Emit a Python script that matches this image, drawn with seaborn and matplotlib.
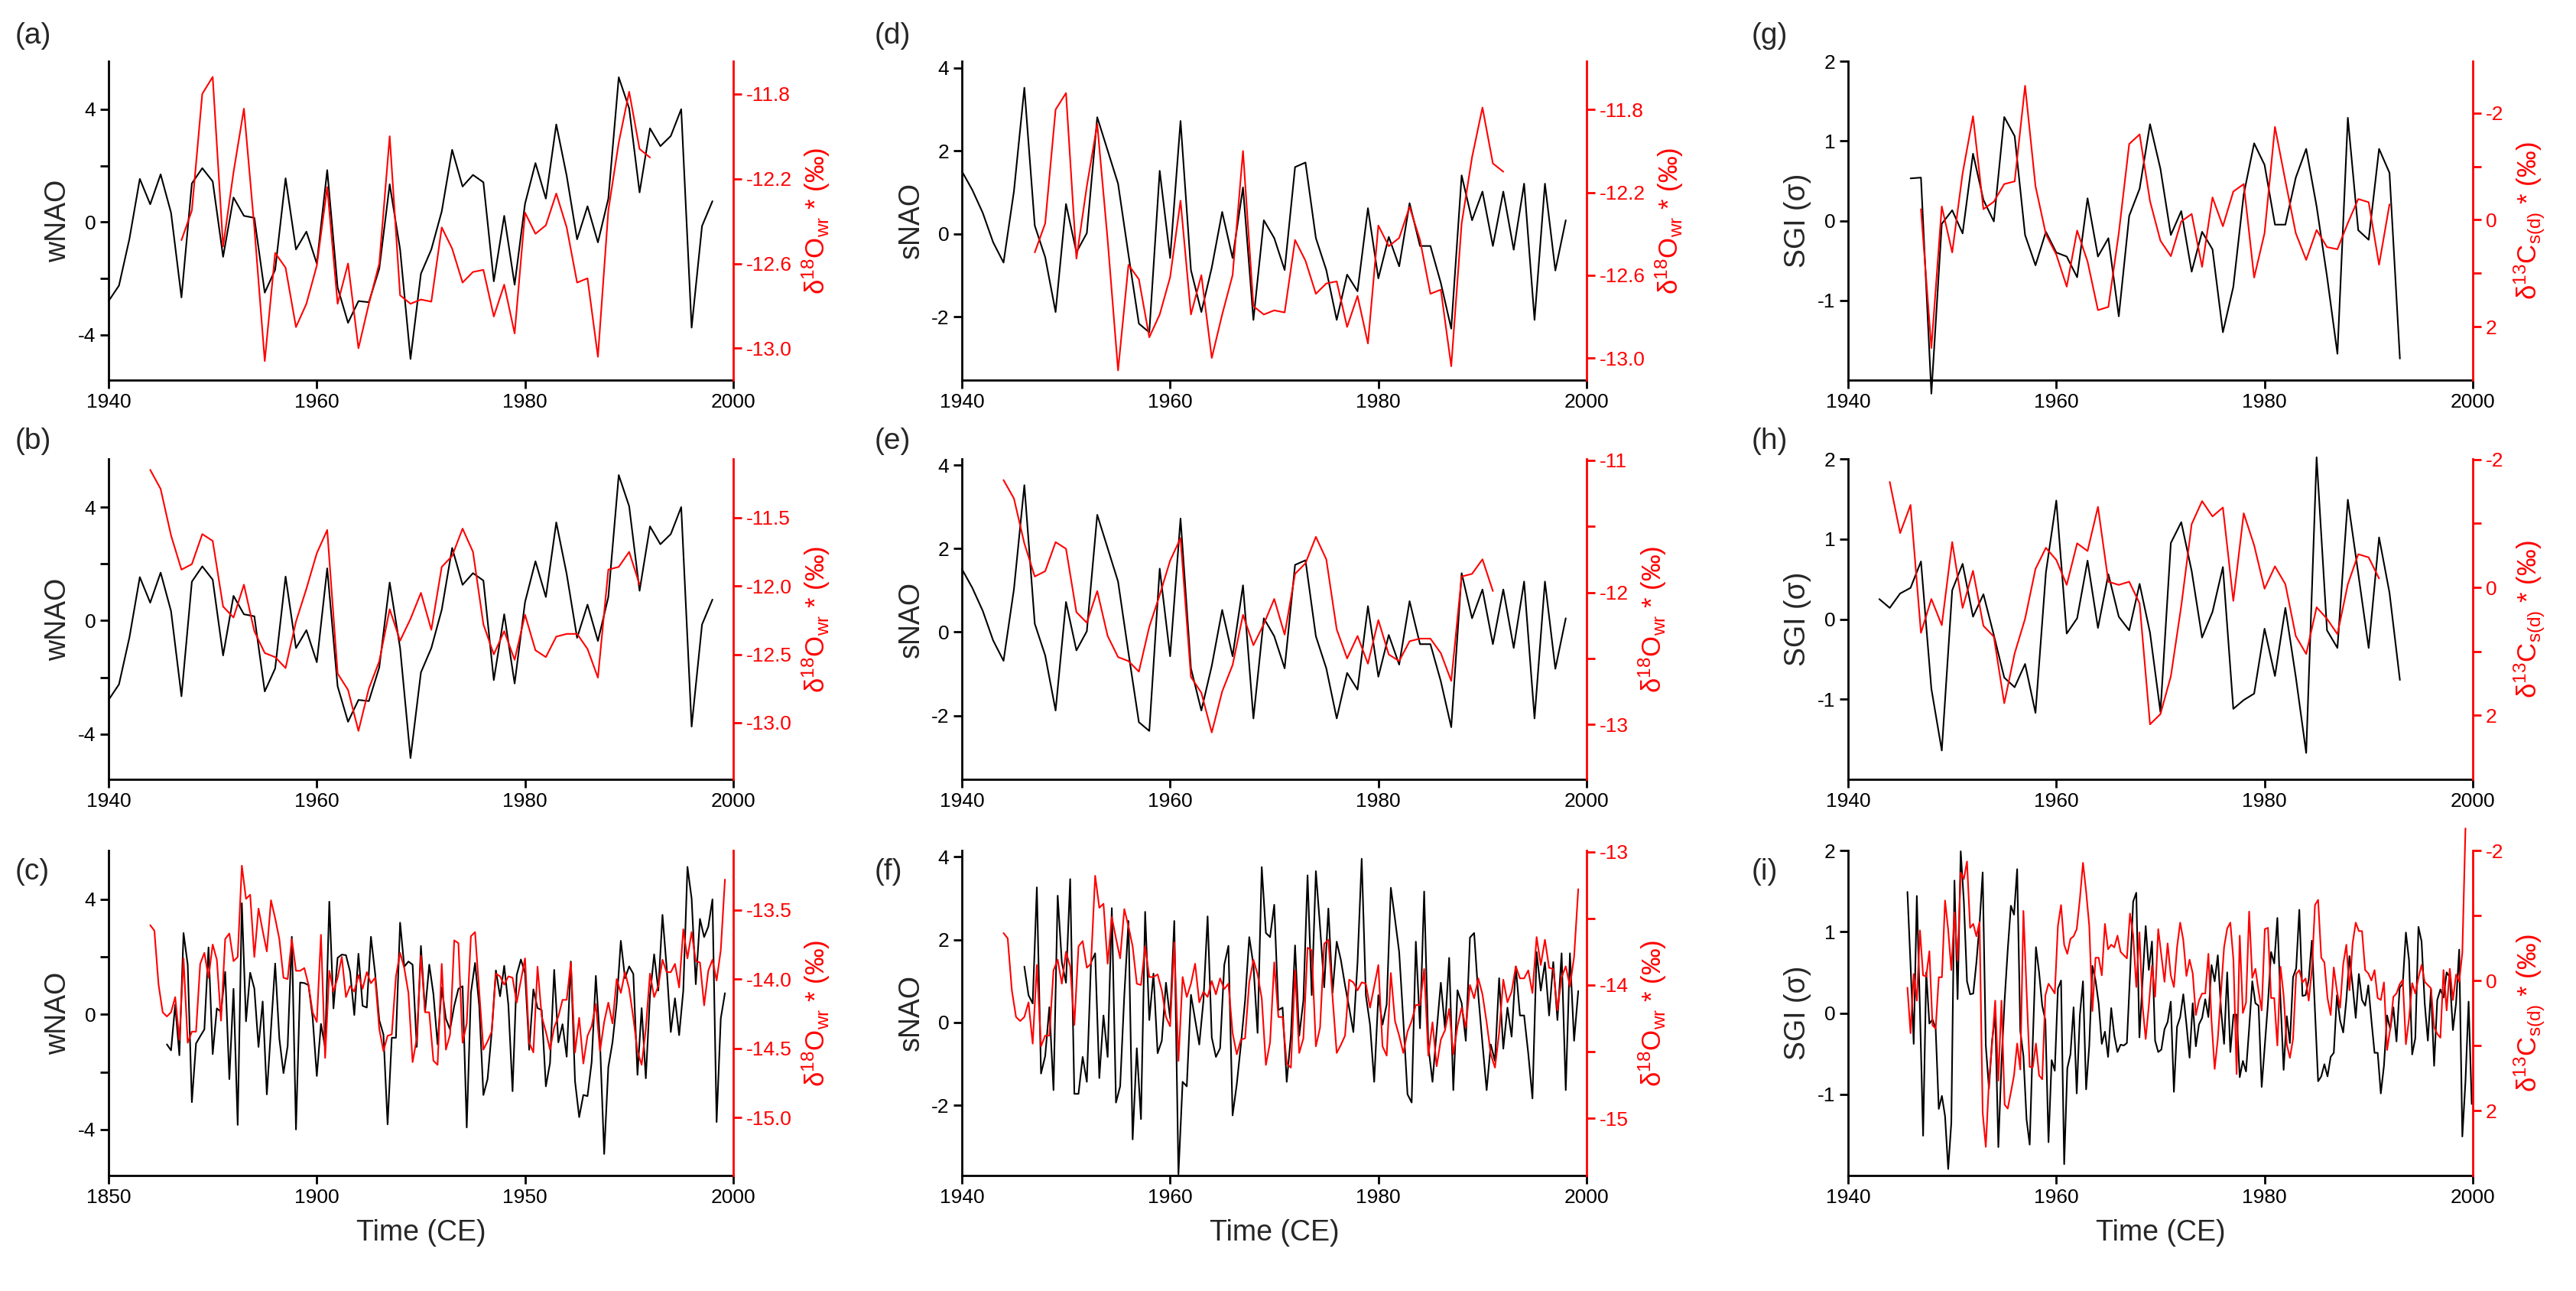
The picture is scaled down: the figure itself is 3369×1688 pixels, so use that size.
import numpy as np
import matplotlib
matplotlib.use("Agg")
import matplotlib.pyplot as plt
import seaborn as sns

# ---------------- data ----------------
# winter NAO, 1940-1998 (panels a, b and tail of c)
wnao = [-2.80, -2.25, -0.60, 1.53, 0.63, 1.69, 0.33, -2.67, 1.37, 1.91,
        1.44, -1.23, 0.87, 0.22, 0.15, -2.50, -1.69, 1.55, -0.97, -0.34,
        -1.47, 1.84, -2.32, -3.57, -2.80, -2.84, -1.65, 1.34, -0.97, -4.85,
        -1.83, -0.97, 0.38, 2.56, 1.26, 1.67, 1.41, -2.10, 0.22, -2.22,
        0.65, 2.09, 0.83, 3.46, 1.64, -0.61, 0.56, -0.72, 0.83, 5.13,
        4.03, 1.05, 3.32, 2.69, 3.05, 4.00, -3.74, -0.14, 0.74]
# winter NAO, 1864-1939 (panel c)
wnao_early = [-1.04, -1.25, 0.34, -1.42, 2.83, 1.73, -3.05, -1.01, -0.76, -0.52,
              2.33, -1.38, 0.21, 0.09, 1.48, -2.25, 0.89, -3.84, 3.87, -0.24,
              1.45, 0.90, -1.13, 0.45, -2.78, -0.52, 1.77, -0.83, -2.04, -1.10,
              2.70, -4.00, 1.11, 1.09, 1.02, -0.11, -2.14, -0.33, -1.15, 3.92,
              0.21, 1.97, 2.08, 2.06, 1.48, -0.02, 2.11, 0.30, 0.24, 2.70,
              1.43, -0.20, -0.70, -3.82, -0.81, -0.81, 3.19, 1.66, 1.84, 1.73,
              -1.13, 2.38, 0.10, 1.73, 0.71, -1.04, 0.93, -0.15, -0.52, 0.30,
              0.89, 0.98, -3.93, 0.75, 1.79, 0.30]
# summer NAO, 1940-1998 (panels d, e)
snao = [1.51, 1.06, 0.51, -0.20, -0.69, 1.03, 3.52, 0.20, -0.56, -1.88,
        0.72, -0.44, 0.02, 2.81, 2.01, 1.21, -0.50, -2.16, -2.37, 1.52,
        -0.58, 2.72, -0.87, -1.88, -0.81, 0.53, -0.58, 1.12, -2.07, 0.33,
        -0.10, -0.87, 1.61, 1.72, -0.10, -0.87, -2.07, -0.98, -1.38, 0.62,
        -1.07, -0.07, -0.78, 0.74, -0.29, -0.29, -1.18, -2.28, 1.41, 0.33,
        1.02, -0.29, 1.02, -0.38, 1.21, -2.07, 1.21, -0.88, 0.33]
# summer NAO long record, 1865-1998 (panel f)
snao_long = [1.35, 0.66, 0.46, 3.26, -1.23, -0.81, 0.37, -1.63, 3.06, 1.45,
             0.96, 3.46, -1.72, -1.72, -0.83, -1.43, 1.45, 1.67, -1.34, 0.17,
             -0.83, 2.76, -1.93, -1.54, 0.66, 2.45, -2.82, -0.62, -2.33, 2.67,
             0.06, 1.18, -0.74, -0.44, 0.96, 0.10, 2.45, -3.66, -1.43, -1.54,
             0.67, 0.07, -0.53, 0.53, 2.56, -0.36, -0.83, -0.62, 1.39, 1.85,
             -2.24, -1.49, -0.53, 0.53, 2.06, 1.39, -0.25, 3.75, 2.16, 2.06,
             2.84, 0.30, 0.36, -1.43, -0.32, 1.86, -0.32, 0.53, 3.55, 0.66,
             3.65, 2.31, 0.85, 2.75, 0.72, 1.95, 1.51, 0.90, 0.35, -0.23,
             1.45, 3.95, 0.66, -0.05, -1.43, 0.66, -0.05, 0.44, 3.25, 2.49,
             1.70, 0.04, -1.73, -1.93, 1.95, -0.14, 3.16, -0.57, -1.43, -0.20,
             0.96, -0.14, 1.56, -1.63, 0.78, 0.47, -0.44, 2.05, 2.16, 0.66,
             -0.51, -1.63, -0.53, -0.93, 1.07, -0.63, 0.36, -0.34, 1.35, 0.17,
             0.17, -0.75, -1.83, 1.70, 0.77, 1.45, 0.17, 1.46, 0.06, 1.67,
             -1.63, 1.67, -0.44, 0.76]
# d18O_wr annual, 1947-1992 (panels a, d)
d18o_annual = [-12.49, -12.35, -11.80, -11.72, -12.52, -12.17, -11.87, -12.43, -13.06, -12.55,
               -12.62, -12.90, -12.79, -12.61, -12.24, -12.79, -12.60, -13.00, -12.79, -12.60,
               -12.00, -12.75, -12.79, -12.77, -12.78, -12.43, -12.53, -12.69, -12.64, -12.63,
               -12.85, -12.70, -12.93, -12.36, -12.46, -12.42, -12.27, -12.43, -12.69, -12.67,
               -13.04, -12.35, -12.03, -11.79, -12.06, -12.10]
# d18O_wr smoothed, 1944-1991 (panels b, e)
d18o_smooth = [-11.15, -11.29, -11.63, -11.88, -11.84, -11.62, -11.67, -12.15, -12.23, -11.99,
               -12.33, -12.49, -12.52, -12.60, -12.26, -12.02, -11.76, -11.59, -12.64, -12.76,
               -13.06, -12.75, -12.55, -12.17, -12.40, -12.24, -12.05, -12.32, -11.86, -11.78,
               -11.58, -11.75, -12.28, -12.50, -12.33, -12.54, -12.21, -12.47, -12.52, -12.37,
               -12.35, -12.35, -12.46, -12.67, -11.88, -11.86, -11.75, -11.99]
# d18O_wr long record, 1860-1998 (panels c, f)
d18o_long = [-13.61, -13.65, -14.04, -14.24, -14.27, -14.24, -14.13, -14.44, -13.85, -14.46,
             -14.38, -14.38, -13.89, -13.81, -13.99, -13.75, -13.86, -14.30, -13.71, -13.67,
             -13.87, -13.84, -13.18, -13.42, -13.39, -13.84, -13.49, -13.65, -13.80, -13.43,
             -13.56, -13.71, -13.99, -14.00, -13.71, -13.94, -13.94, -13.92, -14.04, -14.24,
             -14.31, -13.68, -14.57, -13.94, -14.09, -13.99, -13.84, -14.13, -14.05, -14.09,
             -13.97, -14.07, -13.95, -14.03, -13.99, -14.36, -14.52, -14.41, -14.40, -13.98,
             -13.81, -13.92, -14.10, -14.60, -14.43, -13.83, -14.24, -14.24, -14.59, -14.62,
             -13.89, -14.51, -14.40, -13.72, -13.74, -14.46, -14.32, -13.69, -13.66, -14.09,
             -14.51, -14.45, -14.38, -13.96, -13.98, -14.04, -13.98, -13.99, -14.17, -14.01,
             -13.85, -14.46, -14.53, -13.91, -14.27, -14.38, -14.51, -14.35, -14.27, -14.15,
             -14.15, -13.88, -14.53, -14.28, -14.61, -14.41, -14.34, -14.18, -14.52, -14.31,
             -14.17, -14.32, -14.00, -14.10, -13.95, -14.07, -14.28, -14.52, -14.62, -14.36,
             -13.96, -14.13, -14.05, -13.86, -13.95, -13.95, -13.89, -14.06, -13.64, -13.85,
             -13.66, -13.87, -13.88, -14.19, -13.94, -13.86, -14.01, -13.79, -13.28]
# SGI, 1946-1993 (panel g)
sgi_g = [0.53, 0.54, -2.17, -0.04, 0.13, -0.16, 0.84, 0.26, -0.01, 1.30,
         1.06, -0.18, -0.56, -0.14, -0.40, -0.45, -0.71, 0.28, -0.45, -0.22,
         -1.20, 0.06, 0.40, 1.21, 0.65, -0.18, 0.12, -0.64, -0.14, -0.36,
         -1.40, -0.83, 0.33, 0.97, 0.70, -0.05, -0.05, 0.54, 0.90, 0.18,
         -0.70, -1.67, 1.29, -0.12, -0.24, 0.90, 0.60, -1.73]
# d13C_s(d), 1947-1992 (panel g)
d13c_g = [-0.20, 2.40, -0.25, 0.61, -0.87, -1.94, -0.20, -0.34, -0.67, -0.72,
          -2.51, -0.63, 0.27, 0.65, 1.25, 0.20, 0.78, 1.69, 1.63, 0.25,
          -1.42, -1.60, -0.35, 0.39, 0.68, 0.03, -0.11, 0.88, -0.42, 0.12,
          -0.53, -0.67, 1.08, 0.25, -1.74, -0.73, 0.25, 0.75, 0.19, 0.51,
          0.55, 0.06, -0.39, -0.33, 0.84, -0.29]
# SGI, 1943-1993 (panel h)
sgi_h = [0.25, 0.14, 0.32, 0.39, 0.72, -0.87, -1.64, 0.36, 0.69, 0.03,
         0.31, -0.20, -0.73, -0.85, -0.56, -1.17, 0.58, 1.48, -0.18, 0.01,
         0.73, -0.11, 0.56, 0.03, -0.14, 0.44, -0.17, -1.16, 0.95, 1.21,
         0.60, -0.23, 0.09, 0.65, -1.12, -1.01, -0.93, -0.12, -0.71, 0.14,
         -0.72, -1.67, 2.02, -0.14, -0.36, 1.49, 0.57, -0.36, 1.02, 0.33,
         -0.76]
# d13C_s(d), 1944-1991 (panel h)
d13c_h = [-1.65, -0.85, -1.29, 0.71, 0.18, 0.59, -0.71, 0.32, -0.26, 0.60,
          0.77, 1.81, 1.03, 0.49, -0.29, -0.62, -0.43, -0.04, -0.69, -0.57,
          -1.26, -0.09, -0.04, -0.09, 0.25, 2.14, 1.98, 1.39, 0.29, -0.99,
          -1.35, -1.11, -1.25, 0.21, -1.16, -0.66, 0.02, -0.33, -0.05, 0.76,
          1.04, 0.31, 0.49, 0.73, -0.05, -0.52, -0.47, -0.14]
# SGI dense record (panel i)
sgi_i = [1.49, 0.59, -0.38, 1.44, 0.03, -1.51, 0.50, -0.13, -0.08, -0.19,
         -1.18, -1.02, -1.27, -1.92, -1.35, 1.63, 0.17, 1.99, 1.37, 0.39,
         0.23, 0.24, 0.62, 1.09, 1.73, -0.40, -0.93, -0.34, -0.02, -1.65,
         -0.62, 0.16, 0.78, 1.32, 1.21, 1.77, -0.22, -0.53, -1.31, -1.62,
         -0.34, 0.81, 0.50, 0.09, -0.09, -1.59, -0.58, -0.71, 0.30, 0.40,
         -1.86, -0.68, -0.51, 0.07, -0.99, -0.03, 0.39, -0.94, -0.40, 0.58,
         0.40, 0.12, -0.38, -0.23, -0.54, 0.06, -0.28, -0.48, -0.39, -0.40,
         -0.37, 0.47, 1.37, 1.48, -0.30, 0.40, 1.07, 0.53, 0.88, -0.34,
         -0.48, -0.45, -0.20, -0.11, 0.14, -0.97, -0.17, -0.05, 0.23, -0.14,
         -0.55, 0.12, -0.41, -0.14, -0.06, 0.17, -0.05, 0.59, 0.39, 0.71,
         0.06, -0.38, 0.50, -0.48, -0.02, -0.02, -0.79, -0.59, -0.72, -0.19,
         0.39, 0.12, 0.09, -0.91, -0.39, 0.12, 0.75, 0.61, 1.17, 0.16,
         -0.70, -0.04, -0.37, 0.44, 0.55, 1.27, 0.21, 0.22, 0.41, 0.89,
         0.03, -0.84, -0.78, -0.63, -0.78, -0.54, -0.49, 0.22, -0.09, -0.24,
         0.16, 0.70, 0.34, -0.06, 0.48, 0.16, 0.09, 0.34, -0.09, -0.49,
         -0.49, -0.99, -0.65, -0.03, -0.20, 0.07, -0.35, 0.31, 0.36, 0.99,
         0.65, -0.51, -0.31, 1.06, 0.88, 0.12, -0.34, 0.29, -0.65, 0.16,
         0.29, 0.19, 0.50, 0.44, -0.21, 0.12, 0.78, -1.52, -0.84, 0.14,
         -1.12]
# d13C_s(d) dense record (panel i)
d13c_i = [0.11, 0.81, -0.10, 0.31, -0.77, -0.08, -0.06, -0.45, 0.69, 0.74,
          -0.05, -0.05, -1.23, -0.78, -0.16, -1.05, -0.31, -1.66, -1.56, -1.83,
          -0.81, -0.87, -0.68, -0.90, 2.03, 2.56, 1.56, 0.98, 0.31, 1.54,
          0.31, 1.91, 1.97, 1.72, 1.46, 0.97, 1.37, -1.07, 0.16, 1.33,
          1.33, 0.97, 1.46, 1.52, 0.23, 0.05, 0.12, 0.20, -0.84, -1.16,
          -0.55, -0.41, -0.64, -0.68, -0.79, -1.25, -1.81, -1.37, -0.84, 0.47,
          -0.35, -0.35, -0.08, -0.87, -0.48, -0.55, -0.51, -0.69, -0.44, -0.39,
          -0.34, -1.03, -0.70, 0.10, -0.74, 0.39, 0.90, 0.39, -0.23, 0.25,
          -0.79, -0.39, 0.02, -0.57, -0.08, 0.10, -0.51, -0.89, -0.62, -0.07,
          -0.32, -0.11, 0.53, 0.31, 0.20, 0.20, -0.41, 0.62, 1.36, 0.90,
          0.20, -0.51, -0.80, -0.89, -0.31, 1.44, -0.69, 0.50, 0.34, -1.06,
          -0.04, -0.18, 0.16, 0.46, -0.79, -0.81, 0.27, 0.27, 1.00, -0.21,
          0.23, 0.98, 1.19, 0.90, -0.10, -0.16, 0.03, -0.03, 0.31, -0.16,
          -1.16, -1.24, -0.35, -0.28, 0.27, 0.53, -0.20, 0.16, 0.42, -0.25,
          -0.55, 0.15, -0.57, -0.89, -0.76, -0.76, -0.16, -0.11, 0.00, -0.16,
          0.27, 0.30, 0.03, 1.07, 0.74, 0.25, 0.20, 0.06, -0.01, 0.98,
          0.59, 0.04, 0.20, -0.04, -0.24, 0.02, 0.07, 0.12, 0.72, 0.82,
          0.88, -0.16, 0.46, -0.18, 0.30, -0.09, 0.02, -0.43, -2.34]

# time axes
yr_wnao = np.arange(1940, 1940 + len(wnao))
yr_wnao_c = np.arange(1864, 1864 + len(wnao_early) + len(wnao))
wnao_c = wnao_early + wnao
yr_snao = np.arange(1940, 1940 + len(snao))
yr_d18o_annual = np.arange(1947, 1947 + len(d18o_annual))
yr_d18o_smooth = np.arange(1944, 1944 + len(d18o_smooth))
yr_d18o_long = np.arange(1860, 1860 + len(d18o_long))
yr_snao_long = np.arange(1865, 1865 + len(snao_long))
yr_sgi_g = np.arange(1946, 1946 + len(sgi_g))
yr_d13c_g = np.arange(1947, 1947 + len(d13c_g))
yr_sgi_h = np.arange(1943, 1943 + len(sgi_h))
yr_d13c_h = np.arange(1944, 1944 + len(d13c_h))
# panel f shows the long records squeezed onto the 1940-2000 axis
t_f_red = 1940 + 0.4 * (yr_d18o_long - 1850)
t_f_black = 1940 + 0.4 * (yr_snao_long - 1850)
# panel i: dense sampling
t_i = np.linspace(1945.7, 1999.9, len(sgi_i))
t_i_red = t_i[:len(d13c_i)]

# ---------------- figure ----------------
sns.set_style("ticks")
plt.rcParams["font.family"] = ["Liberation Sans", "DejaVu Sans"]
plt.rcParams["mathtext.fontset"] = "custom"
plt.rcParams["mathtext.rm"] = "Liberation Sans"
plt.rcParams["mathtext.it"] = "Liberation Sans:italic"
plt.rcParams["mathtext.bf"] = "Liberation Sans:bold"

W, H, DPI = 3369, 1688, 200
fig = plt.figure(figsize=(W / DPI, H / DPI), dpi=DPI)

col_left = [142, 1258, 2417]
ax_w = 817
rows = [(80, 497), (600, 1019), (1112, 1537)]
letter_y = [1.08, 1.055, 0.935]
letter_dx = [-0.15, -0.14, -0.155]

D18 = r"δ$^{18}$O$_{\mathrm{wr}}$ * (‰)"
D13 = r"δ$^{13}$C$_{\mathrm{s(d)}}$ * (‰)"

TICK_FS = 9.5
LAB_FS = 13.5
RED_FS = 12.5
LET_FS = 14
LW = 0.75


def make_ax(col, row):
    top, bot = rows[row]
    return fig.add_axes([col_left[col] / W, 1 - bot / H, ax_w / W, (bot - top) / H])


def panel(col, row, letter, tb, yb, tr, yr, xlim, xticks,
          ylim_l, yt_l, ytl_l, ylab_l, ylim_r, yt_r, ytl_r, ylab_r, xlabel=None):
    ax = make_ax(col, row)
    sns.lineplot(x=tb, y=yb, ax=ax, color="black", linewidth=LW,
                 estimator=None, errorbar=None, sort=False, clip_on=False)
    ax2 = ax.twinx()
    sns.lineplot(x=tr, y=yr, ax=ax2, color="red", linewidth=LW,
                 estimator=None, errorbar=None, sort=False, clip_on=False)

    ax.set_xlim(*xlim)
    ax.set_xticks(xticks)
    ax.set_xticklabels([str(x) for x in xticks])
    ax.set_ylim(*ylim_l)
    ax.set_yticks(yt_l)
    ax.set_yticklabels(ytl_l)
    ax.set_ylabel(ylab_l, fontsize=LAB_FS, labelpad=3)
    ax.set_xlabel(xlabel if xlabel else "", fontsize=LAB_FS, labelpad=6)

    ax2.set_ylim(*ylim_r)
    ax2.set_yticks(yt_r)
    ax2.set_yticklabels(ytl_r)
    ax2.set_ylabel(ylab_r, fontsize=RED_FS, color="red", labelpad=4)

    for s in ["top", "right"]:
        ax.spines[s].set_visible(False)
    for s in ["top", "left", "bottom"]:
        ax2.spines[s].set_visible(False)
    for s in ["left", "bottom"]:
        ax.spines[s].set_linewidth(1.0)
        ax.spines[s].set_color("black")
    ax2.spines["right"].set_color("red")
    ax2.spines["right"].set_linewidth(1.0)

    ax.tick_params(direction="out", length=4, width=1.0, labelsize=TICK_FS,
                   colors="black", pad=2)
    ax2.tick_params(axis="y", direction="out", length=4, width=1.0,
                    labelsize=TICK_FS, colors="red", pad=2)
    ax.text(letter_dx[col], letter_y[row], letter, transform=ax.transAxes,
            fontsize=LET_FS, ha="left", va="center")
    return ax, ax2


x6 = (1940, 2000)
xt6 = [1940, 1960, 1980, 2000]
yt_w = [-4, -2, 0, 2, 4]
ytl_w = ["-4", "", "0", "", "4"]
yt_s = [-2, 0, 2, 4]
ytl_s = ["-2", "0", "2", "4"]
yt_g = [-1, 0, 1, 2]
ytl_g = ["-1", "0", "1", "2"]
yt_c13 = [-2, -1, 0, 1, 2]
ytl_c13 = ["-2", "", "0", "", "2"]

# column 1: wNAO
panel(0, 0, "(a)", yr_wnao, wnao, yr_d18o_annual, d18o_annual, x6, xt6,
      (-5.6, 5.7), yt_w, ytl_w, "wNAO",
      (-13.15, -11.646), [-13.0, -12.6, -12.2, -11.8],
      ["-13.0", "-12.6", "-12.2", "-11.8"], D18)
panel(0, 1, "(b)", yr_wnao, wnao, yr_d18o_smooth, d18o_smooth, x6, xt6,
      (-5.6, 5.7), yt_w, ytl_w, "wNAO",
      (-13.414, -11.07), [-13.0, -12.5, -12.0, -11.5],
      ["-13.0", "-12.5", "-12.0", "-11.5"], D18)
panel(0, 2, "(c)", yr_wnao_c, wnao_c, yr_d18o_long, d18o_long, (1850, 2000),
      [1850, 1900, 1950, 2000],
      (-5.6, 5.7), yt_w, ytl_w, "wNAO",
      (-15.42, -13.07), [-15.0, -14.5, -14.0, -13.5],
      ["-15.0", "-14.5", "-14.0", "-13.5"], D18, xlabel="Time (CE)")

# column 2: sNAO
panel(1, 0, "(d)", yr_snao, snao, yr_d18o_annual, d18o_annual, x6, xt6,
      (-3.52, 4.16), yt_s, ytl_s, "sNAO",
      (-13.107, -11.566), [-13.0, -12.6, -12.2, -11.8],
      ["-13.0", "-12.6", "-12.2", "-11.8"], D18)
panel(1, 1, "(e)", yr_snao, snao, yr_d18o_smooth, d18o_smooth, x6, xt6,
      (-3.53, 4.15), yt_s, ytl_s, "sNAO",
      (-13.415, -10.99), [-13, -12.5, -12, -11.5, -11],
      ["-13", "", "-12", "", "-11"], D18)
panel(1, 2, "(f)", t_f_black, snao_long, t_f_red, d18o_long, x6, xt6,
      (-3.69, 4.15), yt_s, ytl_s, "sNAO",
      (-15.43, -12.99), [-15, -14.5, -14, -13.5, -13],
      ["-15", "", "-14", "", "-13"], D18, xlabel="Time (CE)")

# column 3: SGI
panel(2, 0, "(g)", yr_sgi_g, sgi_g, yr_d13c_g, d13c_g, x6, xt6,
      (-2, 2), yt_g, ytl_g, "SGI (σ)",
      (3, -2.97), yt_c13, ytl_c13, D13)
panel(2, 1, "(h)", yr_sgi_h, sgi_h, yr_d13c_h, d13c_h, x6, xt6,
      (-2, 2), yt_g, ytl_g, "SGI (σ)",
      (3, -2.01), yt_c13, ytl_c13, D13)
panel(2, 2, "(i)", t_i, sgi_i, t_i_red, d13c_i, x6, xt6,
      (-2, 2), yt_g, ytl_g, "SGI (σ)",
      (3, -2.0), yt_c13, ytl_c13, D13, xlabel="Time (CE)")

fig.savefig("out.png", dpi=DPI, facecolor="white")
